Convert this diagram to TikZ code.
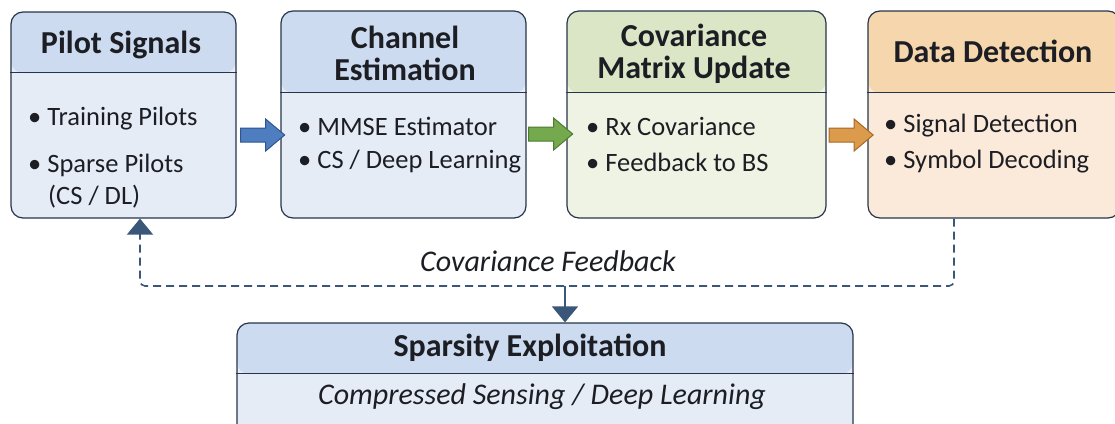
\documentclass[tikz,border=0pt]{standalone}
\usepackage{fontspec}
\setmainfont{Carlito}
\usetikzlibrary{arrows.meta,shapes.arrows}

\definecolor{edgecol}{HTML}{27354A}
\definecolor{txtcol}{HTML}{1C1E24}
\definecolor{bluehead}{HTML}{CCDBEF}
\definecolor{bluebody}{HTML}{E5ECF6}
\definecolor{greenhead}{HTML}{DAE6C5}
\definecolor{greenbody}{HTML}{EEF3E3}
\definecolor{orangehead}{HTML}{F5D6AD}
\definecolor{orangebody}{HTML}{FBEADA}
\definecolor{arrblue}{HTML}{4F7EC0}
\definecolor{arrblueD}{HTML}{2E5590}
\definecolor{arrgreen}{HTML}{74A94E}
\definecolor{arrgreenD}{HTML}{4C7C31}
\definecolor{arrorange}{HTML}{DC9A4C}
\definecolor{arrorangeD}{HTML}{A66A25}
\definecolor{fbcol}{HTML}{3A5779}

\begin{document}
\begin{tikzpicture}[x=1pt,y=-1pt,
  box/.style={draw=edgecol, line width=1.2pt, rounded corners=12pt, inner sep=0pt},
  head/.style 2 args={path picture={\fill[#1] (path picture bounding box.north west) rectangle ([yshift=-#2]path picture bounding box.north east);}},
  divider/.style={draw=edgecol, line width=1.2pt},
  title/.style={font=\bfseries\fontsize{32}{32}\selectfont, text=txtcol, align=center, inner sep=0pt},
  item/.style={font=\fontsize{26.5}{30}\selectfont, text=txtcol, anchor=west, inner sep=0pt},
  slant/.style={font=\itshape\fontsize{30}{32}\selectfont, text=txtcol, inner sep=0pt},
  blockarrow/.style={shape=single arrow, single arrow head extend=9pt, single arrow tip angle=80, minimum height=44pt, inner xsep=0pt, inner ysep=6.5pt, line width=1pt},
  feedback/.style={draw=fbcol, line width=1.6pt, dash pattern=on 8pt off 5pt, rounded corners=5pt},
  tip/.style={-{Triangle[width=26pt,length=16pt]}}
]
\useasboundingbox (0,0) rectangle (1115,423);

% boxes
\node[box, fill=bluebody, head={bluehead}{61pt}, minimum width=225pt, minimum height=206pt] (pilot) at (123.5,115) {};
\node[box, fill=bluebody, head={bluehead}{82pt}, minimum width=245pt, minimum height=207pt] (chan) at (403.5,114.5) {};
\node[box, fill=greenbody, head={greenhead}{82pt}, minimum width=259pt, minimum height=207pt] (cov) at (696.5,114.5) {};
\node[box, fill=orangebody, head={orangehead}{82pt}, minimum width=252pt, minimum height=207pt] (det) at (994,114.5) {};
\node[box, fill=bluebody, head={bluehead}{51pt}, minimum width=616pt, minimum height=117pt] (spars) at (545,381.5) {};

\draw[divider] ([yshift=-61pt]pilot.north west) -- ([yshift=-61pt]pilot.north east);
\draw[divider] ([yshift=-82pt]chan.north west) -- ([yshift=-82pt]chan.north east);
\draw[divider] ([yshift=-82pt]cov.north west) -- ([yshift=-82pt]cov.north east);
\draw[divider] ([yshift=-82pt]det.north west) -- ([yshift=-82pt]det.north east);
\draw[divider] ([yshift=-51pt]spars.north west) -- ([yshift=-51pt]spars.north east);

% titles
\node[title] (pilottitle) at (121,45) {Pilot Signals};
\node[title] (chantitle) at (405,53) {Channel\\Estimation};
\node[title] (covtitle) at (694,54) {Covariance\\Matrix Update};
\node[title] (dettitle) at (993,51) {Data Detection};
\node[title] (sparstitle) at (530,348) {Sparsity Exploitation};

% items
\node[item] (pilot1) at (28,119) {\textbullet\ Training Pilots};
\node[item] (pilot2) at (28,165) {\textbullet\ Sparse Pilots};
\node[item] (pilot3) at (48,197) {(CS / DL)};
\node[item] (chan1) at (298,126) {\textbullet\ MMSE Estimator};
\node[item] (chan2) at (298,162) {\textbullet\ CS / Deep Learning};
\node[item] (cov1) at (586,126) {\textbullet\ Rx Covariance};
\node[item] (cov2) at (586,162) {\textbullet\ Feedback to BS};
\node[item] (det1) at (884,126) {\textbullet\ Signal Detection};
\node[item] (det2) at (884,162) {\textbullet\ Symbol Decoding};
\node[slant] (sparssub) at (542,397) {Compressed Sensing / Deep Learning};

% block arrows
\node[blockarrow, fill=arrblue, draw=arrblueD] (arr1) at (258.5,135) {};
\node[blockarrow, fill=arrgreen, draw=arrgreenD] (arr2) at (546.5,134) {};
\node[blockarrow, fill=arrorange, draw=arrorangeD] (arr3) at (847,135) {};

% feedback
\coordinate (fbdrop) at (954,286);
\coordinate (fbup) at (140,286);
\coordinate (fbmid) at (565,286);
\draw[feedback, tip] (fbdrop |- det.south) -- (fbdrop) -- (fbup) -- (fbup |- pilot.south);
\draw[draw=fbcol, fill=fbcol, line width=1.6pt, tip] (fbmid) -- (fbmid |- spars.north);
\node[slant] (fblabel) at (548,261) {Covariance Feedback};

\end{tikzpicture}
\end{document}
